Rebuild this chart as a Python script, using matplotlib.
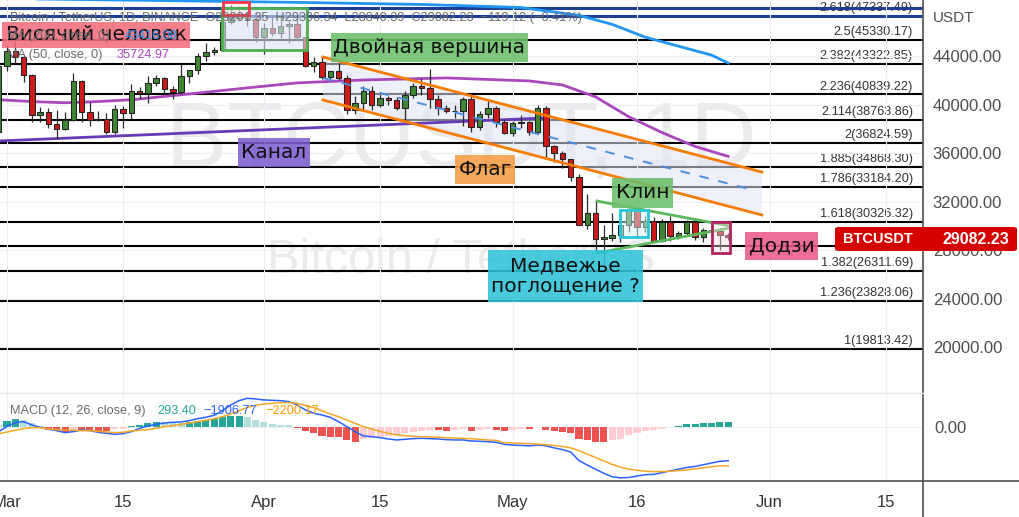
import numpy as np
import pandas as pd
import matplotlib
matplotlib.use("Agg")
import matplotlib.pyplot as plt
import matplotlib.dates as mdates
from matplotlib.patches import Rectangle, Polygon, FancyBboxPatch
from matplotlib.lines import Line2D
from matplotlib import font_manager

# ---- daily candles BTCUSDT (28 Feb - 27 May) ----
dates = pd.date_range("2022-02-28", "2022-05-27", freq="D")
opens = [37699, 43160, 44421, 43892, 42454, 39149, 39397, 38420, 37988, 38731,
         41942, 39423, 38730, 38807, 37777, 39671, 39281, 41114, 40918, 41757,
         42201, 41262, 41002, 42364, 42882, 43991, 44313, 44512, 46820, 47128,
         47465, 47062, 45538, 46281, 45868, 46453, 46622, 45555, 43206, 43503,
         42287, 42782, 42207, 39521, 40127, 41148, 39942, 40552, 40378, 39678,
         40801, 41493, 41358, 40480, 39709, 39441, 39450, 40426, 38112, 39235,
         39742, 38596, 37630, 38468, 38525, 37728, 39690, 36552, 36013, 35472,
         34038, 30074, 31017, 28936, 29031, 29283, 30102, 31305, 29863, 30425,
         28716, 30320, 29200, 29432, 30323, 29098, 29655, 29542, 29201.35]
highs = [44225, 44949, 45400, 44102, 42527, 39795, 39693, 39547, 39362, 42594,
         42039, 40236, 39486, 39310, 39947, 39887, 41718, 41478, 42325, 42400,
         42296, 41544, 43361, 42893, 44220, 45094, 44792, 46999, 48189, 48096,
         47700, 47600, 46720, 47213, 47444, 46890, 47200, 45555, 43900, 43970,
         42800, 43410, 42414, 40699, 41561, 41500, 40870, 40709, 40595, 41116,
         41760, 42199, 42976, 40795, 39980, 39940, 40617, 40797, 39474, 40372,
         39921, 38795, 38675, 39167, 38651, 39980, 39845, 36675, 36146, 35510,
         34243, 32658, 32162, 30033, 31083, 30343, 31460, 31305, 30788, 30700,
         30545, 30777, 29588, 30487, 30670, 29840, 30224, 29856, 29396.34]
lows = [37450, 42809, 43334, 41833, 38550, 38573, 38088, 37155, 37867, 38657,
        38540, 38224, 38660, 37578, 37555, 38098, 38828, 40500, 40135, 41499,
        40911, 40467, 40875, 41751, 42560, 43579, 44071, 44422, 46663, 46950,
        46445, 45200, 44200, 45620, 45530, 45118, 45353, 43121, 42727, 42107,
        42125, 42000, 39200, 39254, 39589, 39551, 39766, 39991, 39546, 38536,
        40571, 40820, 39751, 39177, 39285, 38929, 38200, 37702, 37867, 38881,
        38175, 37578, 37386, 38052, 37518, 37671, 35571, 35258, 34785, 33713,
        30033, 29730, 27785, 26700, 28751, 28630, 29480, 29075, 29460, 28654,
        28691, 28730, 28947, 29255, 28866, 28632, 29294, 28019, 28840.39]
closes = [43160, 44421, 43892, 42454, 39149, 39397, 38420, 37988, 38731, 41942,
          39423, 38730, 38807, 37777, 39671, 39281, 41114, 40918, 41757, 42201,
          41262, 41002, 42364, 42882, 43991, 44313, 44512, 46820, 47128, 47465,
          47062, 45538, 46281, 45868, 46453, 46622, 45555, 43206, 43503, 42287,
          42782, 42207, 39521, 40127, 41148, 39942, 40552, 40378, 39678, 40801,
          41493, 41358, 40480, 39709, 39441, 39450, 40426, 38112, 39235, 39742,
          38596, 37630, 38468, 38525, 37728, 39690, 36552, 36013, 35472, 34038,
          30076, 31017, 28936, 29047, 29283, 30102, 31305, 29863, 30425, 28716,
          30320, 29200, 29432, 30323, 29098, 29655, 29542, 29201, 29082.23]

# ---- moving averages ----
ma50_dates = ["2022-02-28", "2022-03-04", "2022-03-08", "2022-03-12", "2022-03-16",
              "2022-03-24", "2022-03-30", "2022-04-05", "2022-04-13", "2022-04-23",
              "2022-05-03", "2022-05-07", "2022-05-11", "2022-05-15", "2022-05-19",
              "2022-05-23", "2022-05-27"]
ma50_vals = [40400, 40250, 40150, 40250, 40400, 40950, 41380, 41790, 42030, 42200,
             41950, 41620, 40640, 39000, 37700, 36550, 35725]
ma200_dates = ["2022-02-28", "2022-03-19", "2022-04-06", "2022-04-20", "2022-05-02",
               "2022-05-09", "2022-05-13", "2022-05-17", "2022-05-21", "2022-05-25",
               "2022-05-27"]
ma200_vals = [48750, 48590, 48420, 48260, 48010, 47360, 46620, 45560, 44820, 44080, 43430]

# ---- MACD (12, 26, close, 9) ----
macd_hist = [150, 360, 456, 400, 230, 60, -150, -200, -250, -170,
             -175, -185, -190, -200, -120, -70, 75, 130, 230, 285,
             280, 260, 245, 300, 380, 420, 480, 570, 665, 670,
             610, 420, 285, 190, 150, 150, -40, -190, -300, -500,
             -530, -540, -720, -820, -680, -630, -530, -475, -440, -300,
             -250, -190, -150, -160, -190, -150, -115, -190, -150, -95,
             -150, -196, -157, -118, -125, 20, -137, -196, -255, -353,
             -647, -745, -843, -860, -705, -647, -450, -314, -196, -157,
             -98, 40, 78, 196, 216, 255, 262, 285, 293.40]
macd_line = [-250, 50, 266, 322, 133, 0, -114, -190, -304, -247,
             -152, -190, -285, -342, -399, -361, -247, -57, 76, 171,
             247, 285, 304, 380, 494, 570, 684, 950, 1273, 1520,
             1653, 1615, 1558, 1539, 1520, 1463, 1273, 988, 798, 703,
             570, 322, 38, -247, -494, -532, -589, -665, -722, -684,
             -646, -627, -646, -665, -703, -722, -722, -779, -798, -817,
             -855, -975, -1014, -1034, -1054, -1014, -1054, -1172, -1270, -1407,
             -1898, -2153, -2389, -2624, -2820, -2879, -2860, -2781, -2703, -2683,
             -2585, -2487, -2389, -2290, -2232, -2133, -2035, -1937, -1906.77]
signal_line = [-380, -268, -173, -78, -21, -21, -97, -135, -154, -173,
               -192, -192, -230, -268, -306, -287, -211, -173, -135, -59,
               36, 93, 169, 245, 321, 397, 492, 606, 758, 948,
               1138, 1252, 1328, 1366, 1404, 1404, 1366, 1252, 1119, 948,
               758, 606, 416, 226, 36, -97, -230, -344, -439, -477,
               -515, -534, -553, -572, -591, -610, -629, -648, -686, -724,
               -743, -877, -897, -916, -936, -956, -995, -1034, -1093, -1172,
               -1329, -1525, -1721, -1917, -2114, -2271, -2389, -2448, -2506, -2526,
               -2526, -2506, -2467, -2428, -2369, -2310, -2251, -2192, -2200.17]

# ---- fibonacci extension ----
fib_levels = ["1", "1.236", "1.382", "1.5", "1.618", "1.786", "1.885", "2",
              "2.114", "2.236", "2.382", "2.5", "2.618"]
fib_prices = [19813.42, 23828.06, 26311.69, 28319.01, 30326.32, 33184.20, 34868.30,
              36824.59, 38763.86, 40839.22, 43322.85, 45330.17, 47337.49]

price_ticks = [20000, 24000, 28000, 32000, 36000, 40000, 44000]
time_ticks = ["2022-03-01", "2022-03-15", "2022-04-01", "2022-04-15",
              "2022-05-01", "2022-05-16", "2022-06-01", "2022-06-15"]
time_labels = ["Mar", "15", "Apr", "15", "May", "16", "Jun", "15"]

# ------------------------------------------------------------------
W, H = 1020, 517
def fx(x): return x / W
def fy(y): return 1 - y / H

names = {f.name for f in font_manager.fontManager.ttflist}
narrow = "Liberation Sans Narrow" if "Liberation Sans Narrow" in names else "Liberation Sans"
ui = "Liberation Sans"

fig = plt.figure(figsize=(10.2, 5.17), dpi=100)
ax = fig.add_axes([0, fy(393), fx(923), 393 / H])
axm = fig.add_axes([0, fy(481), fx(923), (481 - 393) / H])

x = mdates.date2num(dates)
mar1 = mdates.date2num(pd.Timestamp("2022-03-01"))
def d(n): return mar1 + n

xlim = (d(-0.844), d(110.5))
for a in (ax, axm):
    a.set_xlim(*xlim)
    for s in a.spines.values():
        s.set_visible(False)
    a.set_xticks(mdates.date2num(pd.to_datetime(time_ticks)))
    a.grid(axis="x", color="#eceff4", lw=0.8, zorder=0)
    a.tick_params(length=0)
ax.set_ylim(16208, 48628)

# watermark
wm = "#ebebed"
ax.text(0.5, 0.635, "BTCUSDT, 1D", transform=ax.transAxes, ha="center", va="center",
        fontsize=79 if narrow.endswith("Narrow") else 66, family=narrow, color=wm, zorder=0)
ax.text(0.5, 0.336, "Bitcoin / TetherUS", transform=ax.transAxes, ha="center", va="center",
        fontsize=35, family=ui, color=wm, zorder=0)

# price grid + fib lines
ax.set_yticks(price_ticks)
ax.grid(axis="y", color="#eceff4", lw=0.8, zorder=0)
ax.yaxis.tick_right()
ax.set_yticklabels([f"{p:.2f}" for p in price_ticks], family=ui, fontsize=12, color="#4d4d4d")
ax.tick_params(axis="y", pad=7)
ax.set_xticklabels([])

for lvl, p in zip(fib_levels, fib_prices):
    col = "#1c3f94" if lvl == "2.618" else "black"
    ax.axhline(p, color=col, lw=1.5 if col == "black" else 2.2, zorder=1)
    if lvl != "1.5":  # hidden behind the price tag
        ax.text(d(109.3), p + 150, f"{lvl}({p:.2f})", ha="right", va="bottom",
                fontsize=9.2, family=ui, color="#333333", zorder=1)
ax.axhline(47927, color="#1c3f94", lw=2.2, zorder=1)

# moving averages
ax.plot(mdates.date2num(pd.to_datetime(ma200_dates)), ma200_vals, color="#2196f3", lw=2, zorder=2)
ax.plot(mdates.date2num(pd.to_datetime(ma50_dates)), ma50_vals, color="#ab47bc", lw=2, zorder=2)

# channel (purple) line
ax.plot([d(-0.84), d(65.14)], [37003, 38901], color="#673ab7", lw=2, zorder=2)

# flag: channel fill, bounds, mid dashed line
ax.add_patch(Polygon([[d(38.12), 43925], [d(91.07), 34436], [d(91.07), 30892], [d(38.12), 40378]],
                     closed=True, facecolor="#dfe3f5", alpha=0.55, edgecolor="none", zorder=1.5))
ax.plot([d(38.12), d(91.07)], [43925, 34436], color="#f57c00", lw=2, zorder=4)
ax.plot([d(38.12), d(91.07)], [40378, 30892], color="#f57c00", lw=2, zorder=4)
ax.plot([d(38.12), d(89.99)], [42193, 32955], color="#4a8fe0", lw=1.4, ls=(0, (5, 5)), zorder=4)

# candles
o = np.array(opens); c = np.array(closes)
up = c >= o
ax.vlines(x, lows, highs, color="#2b2b2b", lw=0.9, zorder=3)
body = np.maximum(np.abs(c - o), 70)
ax.bar(x, body, bottom=np.minimum(o, c), width=0.66,
       color=np.where(up, "#3f8532", "#cc1a1a"), edgecolor="#222222", lw=0.75, zorder=3.5)

# wedge
ax.plot([d(71.17), d(87.21)], [32047, 29985], color="#5cb85c", lw=2, zorder=4)
ax.plot([d(71.17), d(87.21)], [27757, 29820], color="#5cb85c", lw=2, zorder=4)

# marked candle boxes
def box(x0, x1, p0, p1, ec, fc, alpha):
    ax.add_patch(Rectangle((d(x0), p1), d(x1) - d(x0), p0 - p1, facecolor=fc, alpha=alpha,
                           edgecolor="none", zorder=4))
    ax.add_patch(Rectangle((d(x0), p1), d(x1) - d(x0), p0 - p1, facecolor="none",
                           edgecolor=ec, lw=2, zorder=4.5))

box(25.94, 36.19, 47969, 44505, "#4caf50", "#dde4f7", 0.6)
box(26.06, 29.19, 48464, 47391, "#ef3b4b", "#fde3e6", 0.4)
box(73.94, 77.32, 31305, 29078, "#26c6da", "#d9f4f8", 0.5)
box(85.04, 87.21, 30315, 27757, "#b0245f", "#fbe0ea", 0.4)

# labels
def label(txt, x0, x1, p0, p1, fc):
    ax.add_patch(Rectangle((d(x0), p1), d(x1) - d(x0), p0 - p1, facecolor=fc, alpha=0.88,
                           edgecolor="none", zorder=6))
    ax.text((d(x0) + d(x1)) / 2, (p0 + p1) / 2, txt, ha="center", va="center",
            fontsize=14.5, color="#111111", zorder=7, linespacing=1.05)

label("Висячий человек", -0.60, 22.07, 46814, 44670, "#f26d7d")
label("Двойная вершина", 39.08, 62.85, 45907, 43515, "#6cbf6c")
label("Канал", 27.86, 36.55, 37251, 34858, "#7e5fd0")
label("Флаг", 54.04, 61.28, 35848, 33456, "#f59c45")
label("Клин", 72.98, 80.34, 33951, 31476, "#6cbf6c")
label("Медвежье\nпоглощение ?", 58.02, 76.72, 28005, 23715, "#2ec3d8")
label("Додзи", 89.02, 97.83, 29490, 27180, "#ec5a8c")

# ---- MACD pane ----
axm.set_ylim(-3061, 1955)
hist = np.array(macd_hist)
prev = np.r_[hist[0], hist[:-1]]
hcol = np.where(hist >= 0, np.where(hist > prev, "#26a69a", "#b2dfdb"),
                np.where(hist < prev, "#ef5350", "#ffcdd2"))
axm.bar(x, hist, width=0.85, color=hcol, zorder=2)
axm.plot(x, macd_line, color="#2962ff", lw=1.1, zorder=3)
axm.plot(x, signal_line, color="#f5a623", lw=1.1, zorder=3)
axm.set_yticks([0])
axm.grid(axis="y", color="#eceff4", lw=0.8, zorder=0)
axm.yaxis.tick_right()
axm.set_yticklabels(["0.00"], family=ui, fontsize=12, color="#4d4d4d")
axm.tick_params(axis="y", pad=8)
axm.set_xticklabels(time_labels, family=ui, fontsize=12, color="#333333")
axm.tick_params(axis="x", pad=10)

# pane separators / axis lines
fig.add_artist(Line2D([0, 1], [fy(481), fy(481)], transform=fig.transFigure, color="#505050", lw=1.2))
fig.add_artist(Line2D([fx(923), fx(923)], [0, 1], transform=fig.transFigure, color="#505050", lw=1.2))
fig.add_artist(Line2D([0, fx(923)], [fy(393), fy(393)], transform=fig.transFigure, color="#e6e8ee", lw=1))

# legends / header
hdr = "#6a6a6a"
fs = 9.2
fig.text(fx(10), fy(18), "Bitcoin / TetherUS, 1D, BINANCE  O29201.35  H29396.34  L28840.39  "
         "C29082.23  \u2212119.12 (\u22120.41%)", fontsize=fs, family=ui, color=hdr, va="center", zorder=1)
fig.text(fx(7), fy(36), "MA (200, close, 0)", fontsize=fs, family=ui, color=hdr, va="center", zorder=1)
fig.text(fx(125), fy(36), "43416.08", fontsize=fs, family=ui, color="#2196f3", va="center", zorder=1)
fig.text(fx(7), fy(55), "MA (50, close, 0)", fontsize=fs, family=ui, color=hdr, va="center", zorder=1)
fig.text(fx(117), fy(55), "35724.97", fontsize=fs, family=ui, color="#ab47bc", va="center", zorder=1)
fig.text(fx(10), fy(411), "MACD (12, 26, close, 9)", fontsize=fs, family=ui, color=hdr, va="center")
fig.text(fx(157), fy(411), "293.40", fontsize=fs, family=ui, color="#26a69a", va="center")
fig.text(fx(203), fy(411), "\u22121906.77", fontsize=fs, family=ui, color="#2962ff", va="center")
fig.text(fx(265), fy(411), "\u22122200.17", fontsize=fs, family=ui, color="#ff9800", va="center")
fig.text(fx(933), fy(18), "USDT", fontsize=11, family=ui, color="#4d4d4d", va="center")

# current price tag
fig.add_artist(FancyBboxPatch((fx(835), fy(251)), fx(1017) - fx(835), (251 - 227) / H,
                              boxstyle="round,pad=0,rounding_size=0.004", transform=fig.transFigure,
                              facecolor="#d50000", edgecolor="none", zorder=5))
fig.text(fx(843), fy(239), "BTCUSDT", fontsize=10.5, family=ui, weight="bold",
         color="white", va="center", zorder=6)
fig.text(fx(1009), fy(239), "29082.23", fontsize=11.5, family=ui, weight="bold",
         color="white", va="center", ha="right", zorder=6)

fig.savefig("out.png", dpi=100)
